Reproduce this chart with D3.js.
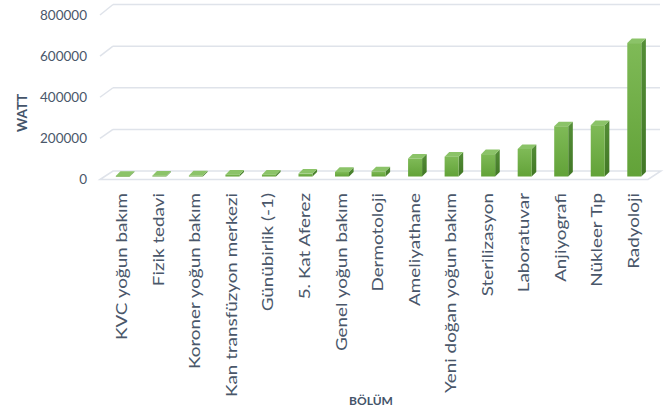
<!DOCTYPE html>
<html>
<head>
<meta charset="utf-8">
<script src="https://cdn.jsdelivr.net/npm/d3@7"></script>
<style>
  html, body { margin: 0; padding: 0; background: #ffffff; }
  svg { display: block; font-family: Lato, "Open Sans", sans-serif; }
</style>
</head>
<body>
<svg id="chart" width="668" height="416"></svg>
<script>
const categories = [
  "KVC yoğun bakım", "Fizik tedavi", "Koroner yoğun bakım", "Kan transfüzyon merkezi",
  "Günübirlik (-1)", "5. Kat Aferez", "Genel yoğun bakım", "Dermotoloji",
  "Ameliyathane", "Yeni doğan yoğun bakım", "Sterilizasyon", "Laboratuvar",
  "Anjiyografi", "Nükleer Tıp", "Radyoloji"
];
const values = [3000, 4000, 5000, 9000, 9000, 14000, 22000, 25000, 87000, 96000, 108000, 133000, 243000, 248000, 645000];
const yTicks = [0, 200000, 400000, 600000, 800000];
const yTitle = "WATT";
const xTitle = "BÖLÜM";

const svg = d3.select("#chart");
const textColor = "#4a576a";
const gridColor = "#dfe3ea";

// 3D geometry
const depthX = 13, depthY = -9.5;
const barT = 0.35;
const barDX = 4.6, barDY = -4.6;
const yFront = d3.scaleLinear().domain([0, 800000]).range([179.5, 15]);
const yBack  = d3.scaleLinear().domain([0, 800000]).range([171, 4.5]);
const yBar   = d3.scaleLinear().domain([0, 800000]).range([176.5, 11]);
const x = d3.scaleBand().domain(categories).range([100, 648]).paddingInner(0).paddingOuter(0);
const barW = 14;

const g = svg.append("g");
yTicks.forEach(v => {
  if (v === 0) return;
  g.append("line").attr("x1", 100).attr("y1", yFront(v)).attr("x2", 100 + depthX).attr("y2", yBack(v))
    .attr("stroke", gridColor).attr("stroke-width", 1.5);
  g.append("line").attr("x1", 100 + depthX).attr("y1", yBack(v)).attr("x2", 660).attr("y2", yBack(v))
    .attr("stroke", gridColor).attr("stroke-width", 1.5);
});
const fx0 = x.range()[0], fx1 = x.range()[1];
g.append("path")
  .attr("d", `M${fx0},${yFront(0)} L${fx0 + depthX},${yBack(0)} L${fx1 + depthX},${yBack(0)} L${fx1},${yFront(0)} Z`)
  .attr("fill", "none").attr("stroke", gridColor).attr("stroke-width", 1.5);

const defs = svg.append("defs");
const grad = defs.append("linearGradient").attr("id", "frontGrad")
  .attr("x1", "0").attr("y1", "0").attr("x2", "0").attr("y2", "1");
grad.append("stop").attr("offset", "0%").attr("stop-color", "#7fba57");
grad.append("stop").attr("offset", "100%").attr("stop-color", "#62a238");
const gradS = defs.append("linearGradient").attr("id", "sideGrad")
  .attr("x1", "0").attr("y1", "0").attr("x2", "0").attr("y2", "1");
gradS.append("stop").attr("offset", "0%").attr("stop-color", "#548e37");
gradS.append("stop").attr("offset", "100%").attr("stop-color", "#417725");

const bars = svg.append("g").selectAll("g.bar").data(categories.map((c, i) => ({c, v: values[i]})))
  .join("g").attr("class", "bar");
bars.each(function(d) {
  const gb = d3.select(this);
  const x0 = x(d.c) + (x.bandwidth() - barW) / 2 + depthX * barT;
  const y0 = yBar(0), y1 = yBar(d.v);
  gb.append("path")
    .attr("d", `M${x0 + barW},${y1} L${x0 + barW + barDX},${y1 + barDY} L${x0 + barW + barDX},${y0 + barDY} L${x0 + barW},${y0} Z`)
    .attr("fill", "url(#sideGrad)");
  gb.append("path")
    .attr("d", `M${x0},${y1} L${x0 + barDX},${y1 + barDY} L${x0 + barW + barDX},${y1 + barDY} L${x0 + barW},${y1} Z`)
    .attr("fill", "#8bc368");
  gb.append("rect").attr("x", x0).attr("y", y1).attr("width", barW).attr("height", Math.max(0.8, y0 - y1))
    .attr("fill", "url(#frontGrad)");
});

svg.append("g").selectAll("text").data(yTicks).join("text")
  .attr("x", 87).attr("y", d => yFront(d)).attr("dy", "0.36em")
  .attr("text-anchor", "end").attr("font-size", 13.5).attr("fill", textColor)
  .text(d => d3.format("d")(d));

svg.append("g").selectAll("text").data(categories).join("text")
  .attr("transform", d => `translate(${x(d) + x.bandwidth() / 2 + 3.6},193) rotate(-90) scale(1.24,1)`)
  .attr("dy", "0.36em")
  .attr("text-anchor", "end").attr("font-size", 15.2).attr("fill", textColor)
  .text(d => d);

svg.append("text").attr("transform", "translate(22,113) rotate(-90)").attr("dy", "0.36em")
  .attr("text-anchor", "middle").attr("font-size", 13.5).attr("font-weight", "bold").attr("fill", "#44546a")
  .text(yTitle);
svg.append("text").attr("x", 371).attr("y", 405)
  .attr("text-anchor", "middle").attr("font-size", 12).attr("font-weight", "bold").attr("fill", "#44546a")
  .text(xTitle);
</script>
</body>
</html>
